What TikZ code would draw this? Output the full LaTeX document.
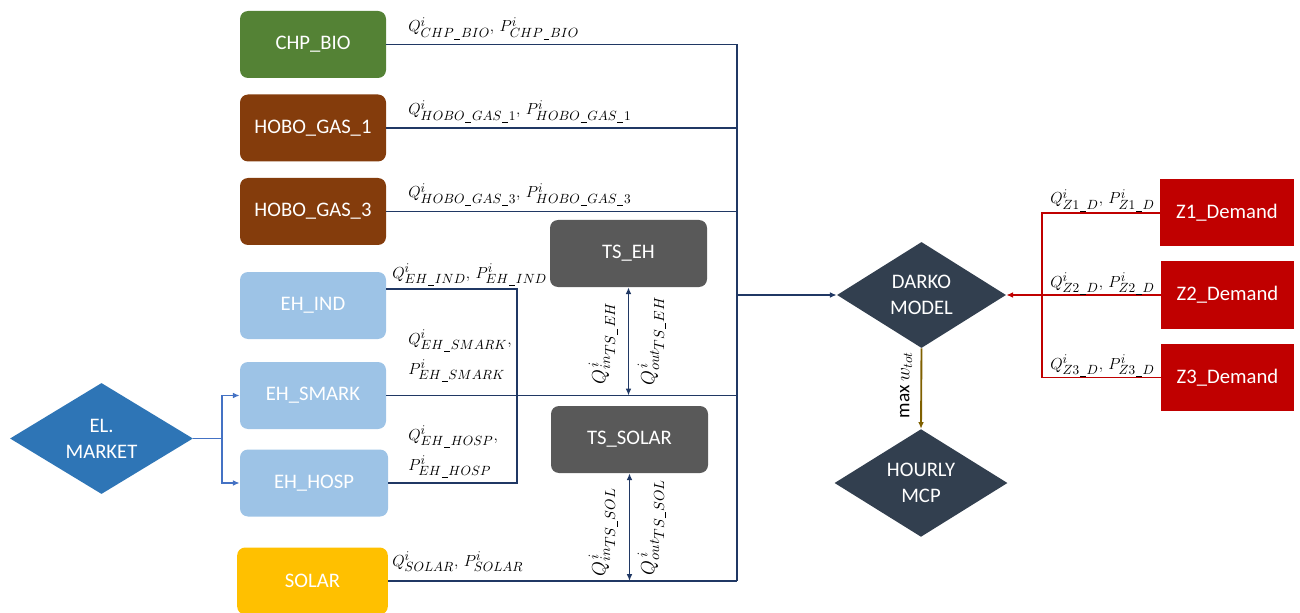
\documentclass[tikz,border=0pt]{standalone}
\usepackage{fontspec}
\setmainfont{Carlito}
\usepackage{tikz}
\usetikzlibrary{arrows.meta,positioning,shapes.geometric,calc}
\definecolor{bioGreen}{HTML}{548235}
\definecolor{gasBrown}{HTML}{843C0C}
\definecolor{ehBlue}{HTML}{9DC3E6}
\definecolor{solarYellow}{HTML}{FFC000}
\definecolor{tsGray}{HTML}{595959}
\definecolor{mktBlue}{HTML}{2E75B6}
\definecolor{mktLine}{HTML}{4472C4}
\definecolor{modelSlate}{HTML}{323F4F}
\definecolor{demRed}{HTML}{C00000}
\definecolor{busNavy}{HTML}{203864}
\definecolor{maxBrown}{HTML}{7F6000}
\DeclareMathSizes{13}{13}{10}{7.5}
\DeclareMathSizes{14}{14}{10.5}{8}
% underscore inside subscripts
\newcommand{\usc}{\mkern1mu\vrule height -1.1pt depth 1.7pt width 4.4pt\mkern1mu}
\tikzset{
  unit/.style={rounded corners=6pt, minimum width=109.5pt, minimum height=50.25pt, align=center, text=white, inner sep=0pt, font=\fontsize{15.5}{18}\selectfont},
  store/.style={unit, fill=tsGray, minimum width=117.75pt},
  demand/.style={unit, rounded corners=0pt, fill=demRed, minimum width=100pt},
  decision/.style={diamond, align=center, text=white, inner sep=0pt, font=\fontsize{15.5}{19.5}\selectfont},
  bus/.style={draw=busNavy, line width=1.4pt},
  mktline/.style={draw=mktLine, line width=1.4pt},
  demline/.style={draw=demRed, line width=1.4pt},
  arrow/.style={-{Latex[length=1.8mm,width=1.5mm]}},
  dblarrow/.style={{Latex[length=1.8mm,width=1.5mm]}-{Latex[length=1.8mm,width=1.5mm]}},
  lbl/.style={inner sep=0pt, font=\fontsize{13}{22.5}\selectfont},
  vlbl/.style={lbl, rotate=90, font=\fontsize{14}{17}\selectfont}
}
\begin{document}
\begin{tikzpicture}[x=0.75pt,y=-0.75pt]
  \useasboundingbox (0,0) rectangle (1300,613);
  % units on the left
  \node[unit,fill=bioGreen] (chp) at (313,44.5) {CHP\_BIO};
  \node[unit,fill=gasBrown] (hobo1) at (313,128) {HOBO\_GAS\_1};
  \node[unit,fill=gasBrown] (hobo3) at (313,211.5) {HOBO\_GAS\_3};
  \node[unit,fill=ehBlue] (ehind) at (313,305.5) {EH\_IND};
  \node[unit,fill=ehBlue] (ehsmark) at (313,395.5) {EH\_SMARK};
  \node[unit,fill=ehBlue,minimum width=111pt] (ehhosp) at (314,483) {EH\_HOSP};
  \node[unit,fill=solarYellow,minimum width=113pt] (solar) at (312.5,581) {SOLAR};
  \node[decision,fill=mktBlue,minimum width=137.25pt,minimum height=63.75pt] (market) at (101.5,438.5) {EL.\\MARKET};
  % storages
  \node[store] (tseh) at (628.5,253.5) {TS\_EH};
  \node[store] (tssolar) at (629.5,439.5) {TS\_SOLAR};
  % model
  \node[decision,fill=modelSlate,minimum width=126.75pt,minimum height=79.5pt] (darko) at (921.5,295) {DARKO\\MODEL};
  \node[decision,fill=modelSlate,minimum width=129.75pt,minimum height=79.5pt] (hourly) at (921,483) {HOURLY\\MCP};
  % demand zones
  \node[demand] (z1) at (1227,213) {Z1\_Demand};
  \node[demand] (z2) at (1227.5,295) {Z2\_Demand};
  \node[demand] (z3) at (1227.5,377.5) {Z3\_Demand};

  \coordinate (bus) at (737,295);
  \coordinate (brk) at (517,289);
  \coordinate (split) at (222,438.5);
  \coordinate (zbus) at (1042,295);

  \draw[bus] (chp.east) -- (chp.east -| bus);
  \draw[bus] (hobo1.east) -- (hobo1.east -| bus);
  \draw[bus] (hobo3.east) -- (hobo3.east -| bus);
  \draw[bus] (ehind.east |- brk) -- (brk) |- (ehhosp.east);
  \draw[bus] (ehsmark.east) -- (ehsmark.east -| bus);
  \draw[bus] (solar.east) -- (solar.east -| bus);
  \draw[bus] (chp.east -| bus) -- (solar.east -| bus);
  \draw[bus,arrow] (bus) -- (darko.west);
  \draw[bus,dblarrow] (tseh.south) -- (tseh.south |- ehsmark.east);
  \draw[bus,dblarrow] (tssolar.south) -- (tssolar.south |- solar.east);

  \draw[mktline] (market.east) -- (split);
  \draw[mktline,arrow] (split) |- (ehsmark.west);
  \draw[mktline,arrow] (split) |- (ehhosp.west);

  \draw[demline] (z1.west) -| (zbus |- z3.west) -- (z3.west);
  \draw[demline,arrow] (z2.west) -- (darko.east);
  \draw[draw=maxBrown,line width=1.4pt,arrow] (darko.south) -- (hourly.north);

  % flow labels
  \node[lbl,anchor=base west] (lchp) at (408,32) {$Q^i_{CHP\usc BIO},\, P^i_{CHP\usc BIO}$};
  \node[lbl,anchor=base west] (lhobo1) at (408,115) {$Q^i_{HOBO\usc GAS\usc 1},\, P^i_{HOBO\usc GAS\usc 1}$};
  \node[lbl,anchor=base west] (lhobo3) at (408,198) {$Q^i_{HOBO\usc GAS\usc 3},\, P^i_{HOBO\usc GAS\usc 3}$};
  \node[lbl,anchor=base west] (lehind) at (392,278) {$Q^i_{EH\usc IND},\, P^i_{EH\usc IND}$};
  \node[lbl,anchor=west,align=left] (lehsmark) at (408,356) {$Q^i_{EH\usc SMARK},$\\$P^i_{EH\usc SMARK}$};
  \node[lbl,anchor=west,align=left] (lehhosp) at (408,452) {$Q^i_{EH\usc HOSP},$\\$P^i_{EH\usc HOSP}$};
  \node[lbl,anchor=base west] (lsolar) at (392,566) {$Q^i_{SOLAR},\, P^i_{SOLAR}$};
  \node[vlbl] (linh) at (603,343) {$Q^{\,i}_{in_{\scriptstyle TS\usc EH}}$};
  \node[vlbl] (louth) at (652,341) {$Q^{\,i}_{out_{\scriptstyle TS\usc EH}}$};
  \node[vlbl] (lins) at (603,532) {$Q^{\,i}_{in_{\scriptstyle TS\usc SOL}}$};
  \node[vlbl] (louts) at (652,527) {$Q^{\,i}_{out_{\scriptstyle TS\usc SOL}}$};
  \node[vlbl,font=\fontsize{14.5}{17}\selectfont] (lmax) at (906,385) {$\max w_{tot}$};
  \node[lbl,anchor=base east] (lz1) at (1155,204) {$Q^i_{Z1\usc D},\, P^i_{Z1\usc D}$};
  \node[lbl,anchor=base east] (lz2) at (1155,287) {$Q^i_{Z2\usc D},\, P^i_{Z2\usc D}$};
  \node[lbl,anchor=base east] (lz3) at (1155,369) {$Q^i_{Z3\usc D},\, P^i_{Z3\usc D}$};
\end{tikzpicture}
\end{document}
